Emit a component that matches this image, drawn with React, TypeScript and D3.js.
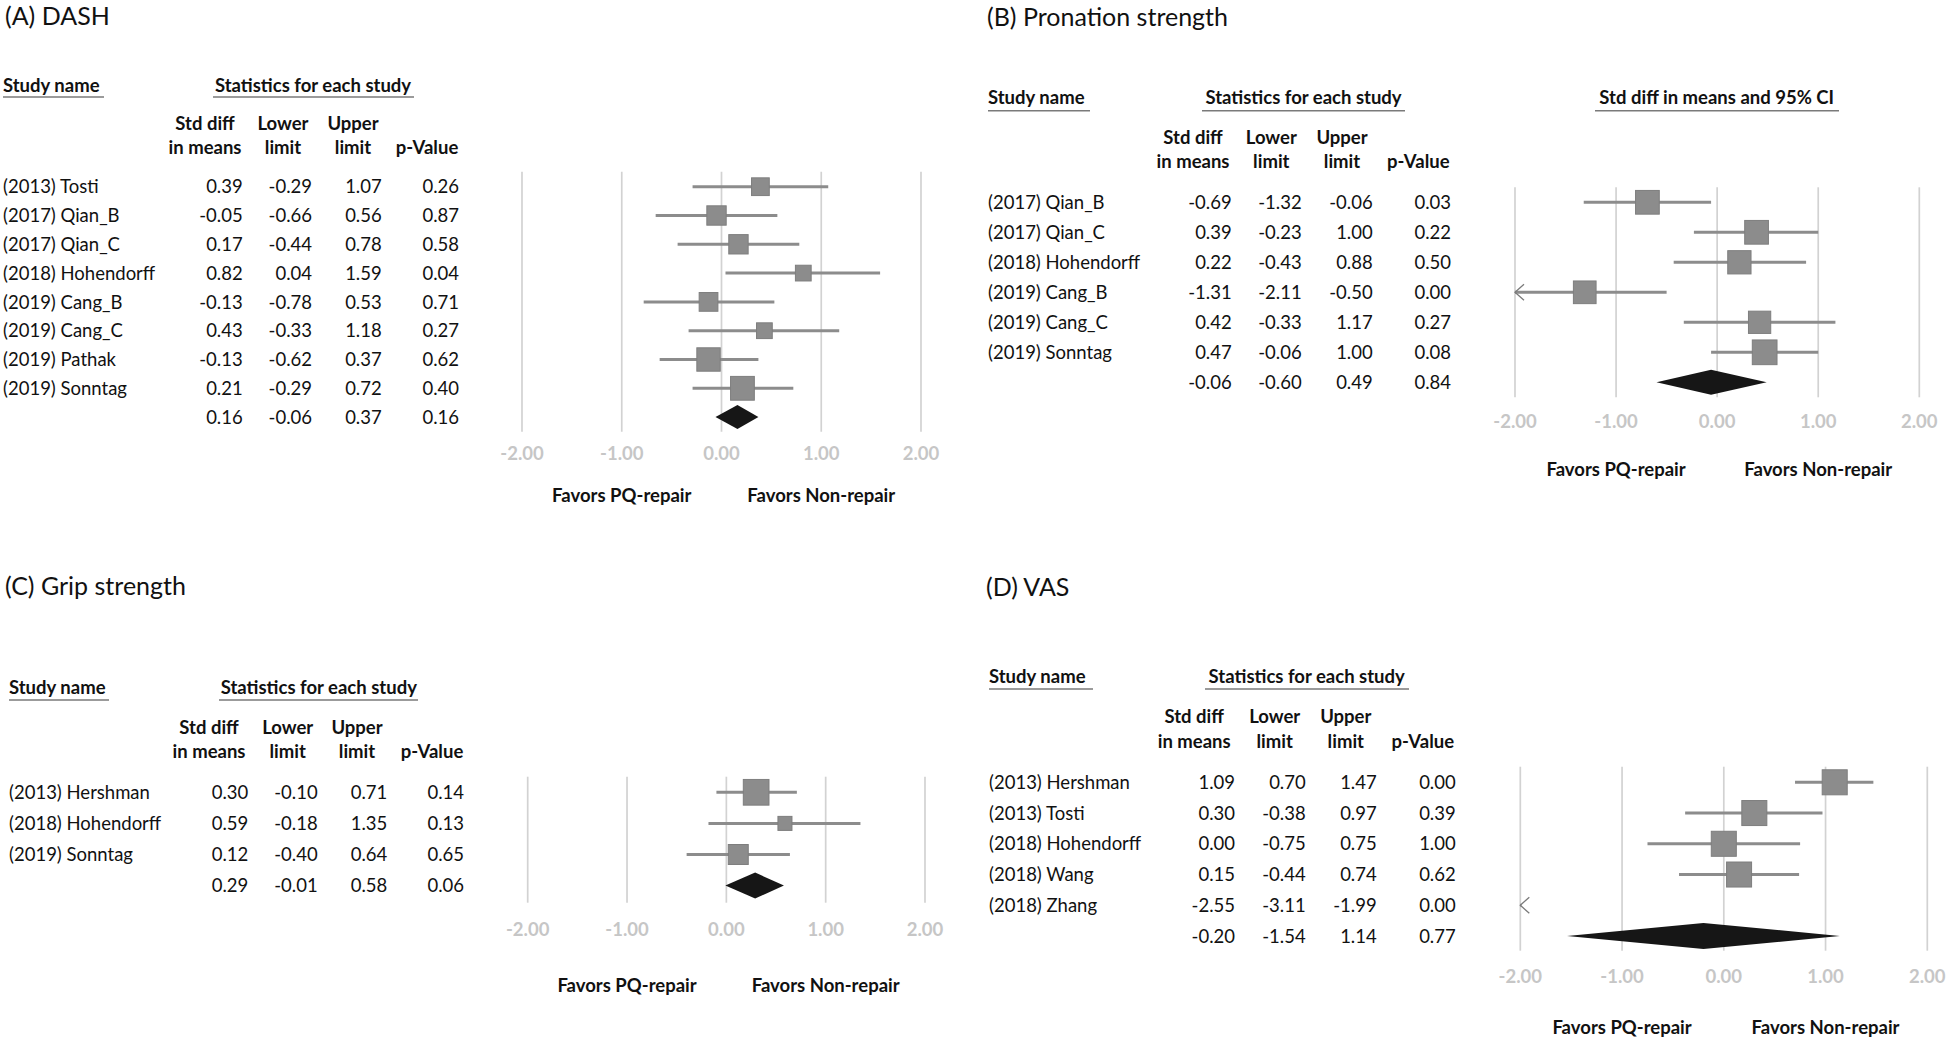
import React from "react";
import * as d3 from "d3";

// ---------------- DATA ----------------
// (A) DASH
const dashStudies = ["(2013) Tosti", "(2017) Qian_B", "(2017) Qian_C", "(2018) Hohendorff", "(2019) Cang_B", "(2019) Cang_C", "(2019) Pathak", "(2019) Sonntag"];
const dashEst = [0.39, -0.05, 0.17, 0.82, -0.13, 0.43, -0.13, 0.21];
const dashLower = [-0.29, -0.66, -0.44, 0.04, -0.78, -0.33, -0.62, -0.29];
const dashUpper = [1.07, 0.56, 0.78, 1.59, 0.53, 1.18, 0.37, 0.72];
const dashP = [0.26, 0.87, 0.58, 0.04, 0.71, 0.27, 0.62, 0.40];
const dashWeight = [10.4, 12.4, 12.4, 8.2, 11.6, 8.2, 18.1, 18.7];
const dashSummary = [0.16, -0.06, 0.37, 0.16];

// (B) Pronation strength
const proStudies = ["(2017) Qian_B", "(2017) Qian_C", "(2018) Hohendorff", "(2019) Cang_B", "(2019) Cang_C", "(2019) Sonntag"];
const proEst = [-0.69, 0.39, 0.22, -1.31, 0.42, 0.47];
const proLower = [-1.32, -0.23, -0.43, -2.11, -0.33, -0.06];
const proUpper = [-0.06, 1.00, 0.88, -0.50, 1.17, 1.00];
const proP = [0.03, 0.22, 0.50, 0.00, 0.27, 0.08];
const proWeight = [18.6, 18.6, 17.9, 17.0, 16.4, 20.2];
const proSummary = [-0.06, -0.60, 0.49, 0.84];

// (C) Grip strength
const gripStudies = ["(2013) Hershman", "(2018) Hohendorff", "(2019) Sonntag"];
const gripEst = [0.30, 0.59, 0.12];
const gripLower = [-0.10, -0.18, -0.40];
const gripUpper = [0.71, 1.35, 0.64];
const gripP = [0.14, 0.13, 0.65];
const gripWeight = [21.8, 6.5, 13.2];
const gripSummary = [0.29, -0.01, 0.58, 0.06];

// (D) VAS
const vasStudies = ["(2013) Hershman", "(2013) Tosti", "(2018) Hohendorff", "(2018) Wang", "(2018) Zhang"];
const vasEst = [1.09, 0.30, 0.00, 0.15, -2.55];
const vasLower = [0.70, -0.38, -0.75, -0.44, -3.11];
const vasUpper = [1.47, 0.97, 0.75, 0.74, -1.99];
const vasP = [0.00, 0.39, 1.00, 0.62, 0.00];
const vasWeight = [20.7, 20.7, 20.7, 20.7, 20.7];
const vasSummary = [-0.20, -1.54, 1.14, 0.77];

const axisDomain = [-2, 2];
const colHeads = [["Std diff", "in means"], ["Lower", "limit"], ["Upper", "limit"], ["", "p-Value"]];

// ---------------- LAYOUT ----------------
const FONT = "Lato, 'Open Sans', 'Liberation Sans', sans-serif";
const FS = 18.5;
const TITLE_FS = 25;
const fmt = d3.formatLocale({ decimal: ".", thousands: ",", grouping: [3], currency: ["", ""], minus: "-" }).format(".2f");
const sideScale = d3.scaleSqrt().domain([0, 100]).range([0, 55]);

type Layout = {
  title: string; titleX: number; titleY: number;
  snX: number; snUnderEnd: number; headY: number; underY: number;
  statCx: number; statU0: number; statU1: number;
  h1Y: number; h2Y: number; hCx: number[]; colR: number[];
  row0: number; step: number;
  x0: number; x1: number; gTop: number; gBot: number; tickY: number; favY: number;
  diamondH: number;
  ciHead?: { cx: number; u0: number; u1: number };
};

const layouts: Layout[] = [
  {
    title: "(A) DASH", titleX: 5, titleY: 24.5,
    snX: 3, snUnderEnd: 104, headY: 92, underY: 97,
    statCx: 313, statU0: 213, statU1: 414,
    h1Y: 130, h2Y: 154, hCx: [205, 283, 353, 427], colR: [242.7, 312, 381.7, 459],
    row0: 186.7, step: 28.8,
    x0: 522, x1: 921, gTop: 171.7, gBot: 431.7, tickY: 453, favY: 495, diamondH: 24,
  },
  {
    title: "(B) Pronation strength", titleX: 987, titleY: 26,
    snX: 988, snUnderEnd: 1090, headY: 104.3, underY: 110.7,
    statCx: 1303.5, statU0: 1202, statU1: 1405,
    h1Y: 144.3, h2Y: 168.3, hCx: [1193, 1271.3, 1342, 1418.3], colR: [1231.7, 1301.7, 1372.7, 1451],
    row0: 202.3, step: 30,
    x0: 1515, x1: 1919.3, gTop: 187.3, gBot: 397.3, tickY: 421, favY: 469.3, diamondH: 25,
    ciHead: { cx: 1716.7, u0: 1595, u1: 1839 },
  },
  {
    title: "(C) Grip strength", titleX: 5, titleY: 595,
    snX: 9, snUnderEnd: 109, headY: 694, underY: 700,
    statCx: 318.8, statU0: 219, statU1: 418,
    h1Y: 734, h2Y: 758.3, hCx: [209, 287.7, 357, 432], colR: [248.3, 317.7, 387.3, 464],
    row0: 792.3, step: 31.1,
    x0: 527.7, x1: 925, gTop: 776.7, gBot: 902.7, tickY: 929.3, favY: 985, diamondH: 26,
  },
  {
    title: "(D) VAS", titleX: 986, titleY: 596,
    snX: 989, snUnderEnd: 1093, headY: 683.3, underY: 689,
    statCx: 1306.7, statU0: 1205, statU1: 1409,
    h1Y: 723.3, h2Y: 748.3, hCx: [1194.2, 1274.7, 1345.8, 1422.8], colR: [1235, 1305.7, 1376.7, 1455.7],
    row0: 782.3, step: 30.74,
    x0: 1520.3, x1: 1927.3, gTop: 766.7, gBot: 950.7, tickY: 976.7, favY: 1027.3, diamondH: 26,
  },
];

type PanelData = {
  studies: string[]; est: number[]; lower: number[]; upper: number[]; p: number[]; weight: number[]; summary: number[];
};

const panels: PanelData[] = [
  { studies: dashStudies, est: dashEst, lower: dashLower, upper: dashUpper, p: dashP, weight: dashWeight, summary: dashSummary },
  { studies: proStudies, est: proEst, lower: proLower, upper: proUpper, p: proP, weight: proWeight, summary: proSummary },
  { studies: gripStudies, est: gripEst, lower: gripLower, upper: gripUpper, p: gripP, weight: gripWeight, summary: gripSummary },
  { studies: vasStudies, est: vasEst, lower: vasLower, upper: vasUpper, p: vasP, weight: vasWeight, summary: vasSummary },
];

const TXT = "#111111";
const GRID = "#d2d2d2";
const MARK = "#8c8c8c";
const TICK = "#c6c6c6";

function Panel({ d, L }: { d: PanelData; L: Layout }) {
  const x = d3.scaleLinear().domain(axisDomain).range([L.x0, L.x1]);
  const ticks = x.ticks(4);
  const rowY = (i: number) => L.row0 + i * L.step;
  const base = (cy: number) => cy + FS * 0.36;
  const n = d.studies.length;
  const [lo, hi] = axisDomain;

  return (
    <g>
      <text x={L.titleX} y={L.titleY} fontSize={TITLE_FS} fill={TXT}>{L.title}</text>
      {/* headers */}
      <text x={L.snX} y={L.headY} fontWeight={700} fontSize={FS} fill={TXT}>Study name</text>
      <line x1={L.snX} x2={L.snUnderEnd} y1={L.underY} y2={L.underY} stroke="#7a7a7a" strokeWidth={1.5} />
      <text x={L.statCx} y={L.headY} fontWeight={700} fontSize={FS} fill={TXT} textAnchor="middle">Statistics for each study</text>
      <line x1={L.statU0} x2={L.statU1} y1={L.underY} y2={L.underY} stroke="#7a7a7a" strokeWidth={1.5} />
      {L.ciHead && (
        <g>
          <text x={L.ciHead.cx} y={L.headY} fontWeight={700} fontSize={FS} fill={TXT} textAnchor="middle">Std diff in means and 95% CI</text>
          <line x1={L.ciHead.u0} x2={L.ciHead.u1} y1={L.underY} y2={L.underY} stroke="#7a7a7a" strokeWidth={1.5} />
        </g>
      )}
      {colHeads.map((h, j) => (
        <g key={j}>
          {h[0] && <text x={L.hCx[j]} y={L.h1Y} fontWeight={700} fontSize={FS} fill={TXT} textAnchor="middle">{h[0]}</text>}
          <text x={L.hCx[j]} y={L.h2Y} fontWeight={700} fontSize={FS} fill={TXT} textAnchor="middle">{h[1]}</text>
        </g>
      ))}
      {/* table rows */}
      {d.studies.map((s, i) => {
        const vals = [d.est[i], d.lower[i], d.upper[i], d.p[i]];
        return (
          <g key={s}>
            <text x={L.snX} y={base(rowY(i))} fontSize={FS} fill={TXT}>{s}</text>
            {vals.map((v, j) => (
              <text key={j} x={L.colR[j]} y={base(rowY(i))} fontSize={FS} fill={TXT} textAnchor="end">{fmt(v)}</text>
            ))}
          </g>
        );
      })}
      {d.summary.map((v, j) => (
        <text key={"s" + j} x={L.colR[j]} y={base(rowY(n))} fontSize={FS} fill={TXT} textAnchor="end">{fmt(v)}</text>
      ))}
      {/* grid */}
      {ticks.map((t) => (
        <g key={t}>
          <line x1={x(t)} x2={x(t)} y1={L.gTop} y2={L.gBot} stroke={GRID} strokeWidth={1.7} />
          <text x={x(t)} y={base(L.tickY)} fontSize={FS} fontWeight={700} fill={TICK} textAnchor="middle">{fmt(t)}</text>
        </g>
      ))}
      {/* study markers */}
      {d.studies.map((s, i) => {
        const cy = rowY(i);
        const l = Math.max(d.lower[i], lo);
        const u = Math.min(d.upper[i], hi);
        const side = sideScale(d.weight[i]);
        const estIn = d.est[i] >= lo && d.est[i] <= hi;
        const arrowLeft = d.lower[i] < lo;
        return (
          <g key={"m" + s}>
            {u > l && <line x1={x(l)} x2={x(u)} y1={cy} y2={cy} stroke={MARK} strokeWidth={3} />}
            {estIn && (
              <rect x={x(d.est[i]) - side / 2} y={cy - side / 2} width={side} height={side} fill={MARK} stroke="#7e7e7e" strokeWidth={1} />
            )}
            {arrowLeft && (
              <path d={`M${x(lo) + 9},${cy - 8}L${x(lo)},${cy}L${x(lo) + 9},${cy + 8}`} fill="none" stroke="#7a7a7a" strokeWidth={1.3} />
            )}
          </g>
        );
      })}
      {/* summary diamond */}
      {(() => {
        const cy = rowY(n);
        const [e, l, u] = d.summary;
        const h = L.diamondH / 2;
        const path = d3.path();
        path.moveTo(x(l), cy);
        path.lineTo(x(e), cy - h);
        path.lineTo(x(u), cy);
        path.lineTo(x(e), cy + h);
        path.closePath();
        return <path d={path.toString()} fill="#161616" />;
      })()}
      <text x={x(-1)} y={base(L.favY)} fontSize={FS} fontWeight={700} fill={TXT} textAnchor="middle">Favors PQ-repair</text>
      <text x={x(1)} y={base(L.favY)} fontSize={FS} fontWeight={700} fill={TXT} textAnchor="middle">Favors Non-repair</text>
    </g>
  );
}

export default function App() {
  return (
    <svg
      width={1946}
      height={1040}
      style={{ position: "absolute", left: 0, top: 0, background: "#ffffff" }}
      fontFamily={FONT}
    >
      <rect x={0} y={0} width={1946} height={1040} fill="#ffffff" />
      {panels.map((d, i) => (
        <Panel key={i} d={d} L={layouts[i]} />
      ))}
    </svg>
  );
}
